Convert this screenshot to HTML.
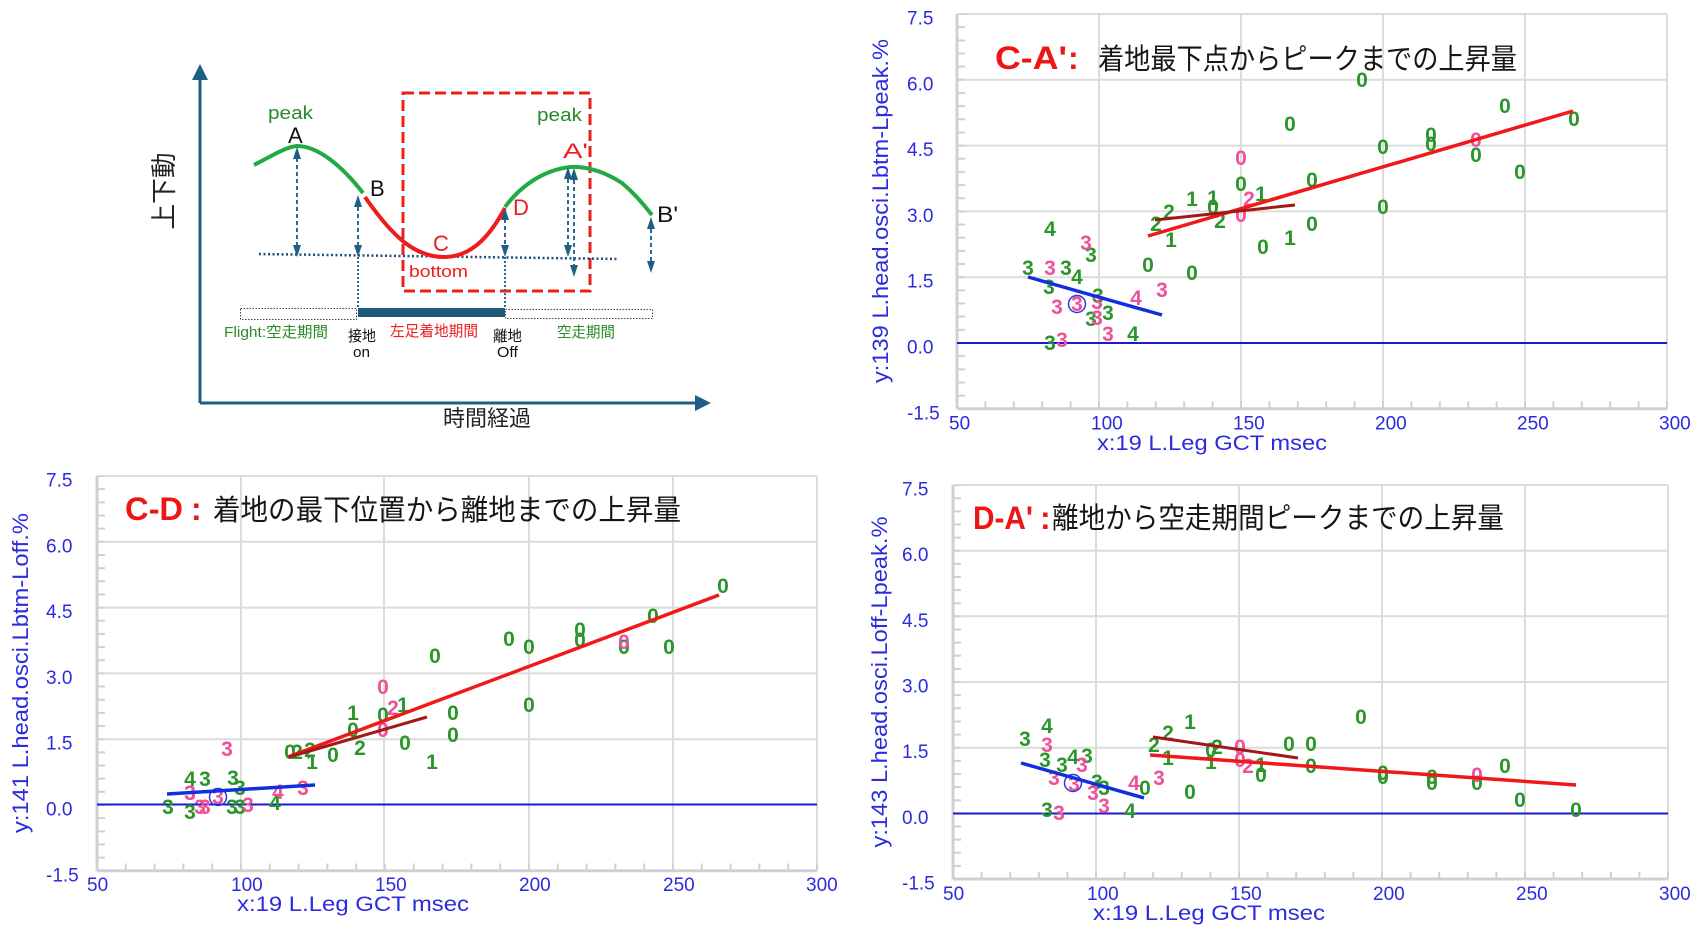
<!DOCTYPE html>
<html>
<head>
<meta charset="utf-8">
<style>
html,body{margin:0;padding:0;background:#fff;}
body{width:1700px;height:933px;overflow:hidden;}
svg{display:block;}
.lbl{font-family:"Liberation Sans","Noto Sans CJK JP",sans-serif;fill:#2b2be0;font-size:19px;}
.ttl{font-family:"Liberation Sans",sans-serif;fill:#2b2be0;font-size:21px;}
.yt{font-family:"Liberation Sans",sans-serif;fill:#2b2be0;font-size:22px;}
.g text{font-family:"Liberation Sans",sans-serif;font-weight:bold;font-size:21px;text-anchor:middle;}
.gr{fill:#2a962a;}
.pk{fill:#f0509a;}
.grid{stroke:#dcdcdc;stroke-width:2;}
.ax{stroke:#d0d0d0;stroke-width:3;}
.tk{stroke:#d0d0d0;}
.hr{font-family:"Liberation Sans",sans-serif;font-weight:bold;fill:#ee1515;font-size:32px;}
.hj{font-family:"Liberation Sans","Noto Sans CJK JP",sans-serif;fill:#161616;font-size:29px;}
.dg{font-family:"Liberation Sans","Noto Sans CJK JP",sans-serif;}
</style>
</head>
<body>
<svg width="1700" height="933" viewBox="0 0 1700 933" xmlns="http://www.w3.org/2000/svg">
<rect width="1700" height="933" fill="#fff"/>

<!-- ================= DIAGRAM (top-left) ================= -->
<g>
  <line x1="200" y1="403" x2="200" y2="78" stroke="#1f5f86" stroke-width="3"/>
  <polygon points="200,64 192,80 208,80" fill="#1f5f86"/>
  <line x1="200" y1="403" x2="697" y2="403" stroke="#1f5f86" stroke-width="3"/>
  <polygon points="711,403 695,395 695,411" fill="#1f5f86"/>
  <text class="dg" transform="translate(173,191) rotate(-90)" text-anchor="middle" font-size="26" fill="#222" textLength="77" lengthAdjust="spacingAndGlyphs">上下動</text>
  <text class="dg" x="443" y="426" font-size="22" fill="#222" textLength="88" lengthAdjust="spacingAndGlyphs">時間経過</text>

  <rect x="403" y="93" width="187" height="198" fill="none" stroke="#e82020" stroke-width="3" stroke-dasharray="11 5"/>

  <line x1="259" y1="254" x2="618" y2="259" stroke="#1f4e79" stroke-width="2.5" stroke-dasharray="2 2.5"/>

  <path d="M254,165 C270,157 285,147 297,146 C318,146 342,166 363,193" fill="none" stroke="#22aa44" stroke-width="4"/>
  <path d="M365,197 C392,236 415,258 446,257 C472,256 490,236 505,208" fill="none" stroke="#ee1c1c" stroke-width="4"/>
  <path d="M505,207 C522,184 545,170 570,167 C590,166 608,174 622,183 C635,194 644,205 652,215" fill="none" stroke="#22aa44" stroke-width="4"/>

  <g stroke="#2a6a95" stroke-width="2" stroke-dasharray="4 3" fill="none">
    <line x1="297" y1="158" x2="297" y2="246"/>
    <line x1="358" y1="207" x2="358" y2="246"/>
    <line x1="505" y1="219" x2="505" y2="246"/>
    <line x1="568" y1="179" x2="568" y2="246"/>
    <line x1="574" y1="180" x2="574" y2="266"/>
    <line x1="651" y1="229" x2="651" y2="262"/>
  </g>
  <g stroke="#2a6a95" stroke-width="2" stroke-dasharray="2 2" fill="none">
    <line x1="358" y1="257" x2="358" y2="308"/>
    <line x1="505" y1="257" x2="505" y2="308"/>
  </g>
  <g fill="#1f5f86">
    <polygon points="297,147 293,159 301,159"/><polygon points="297,257 293,245 301,245"/>
    <polygon points="358,195 354,207 362,207"/><polygon points="358,257 354,245 362,245"/>
    <polygon points="505,208 501,220 509,220"/><polygon points="505,257 501,245 509,245"/>
    <polygon points="568,167 564,179 572,179"/><polygon points="568,257 564,245 572,245"/>
    <polygon points="574,168 570,180 578,180"/><polygon points="574,277 570,265 578,265"/>
    <polygon points="651,217 647,229 655,229"/><polygon points="651,273 647,261 655,261"/>
  </g>

  <rect x="240.5" y="308.5" width="116" height="11" fill="none" stroke="#444" stroke-width="1" stroke-dasharray="1.5 1.5"/>
  <rect x="358" y="308" width="147" height="9" fill="#1f5a7a"/>
  <rect x="505.5" y="309.5" width="147" height="9" fill="none" stroke="#444" stroke-width="1" stroke-dasharray="1.5 1.5"/>

  <text class="dg" x="268" y="119" font-size="18" fill="#2a8a2a" textLength="45" lengthAdjust="spacingAndGlyphs">peak</text>
  <text class="dg" x="537" y="121" font-size="18" fill="#2a8a2a" textLength="45" lengthAdjust="spacingAndGlyphs">peak</text>
  <text class="dg" x="288" y="143" font-size="22" fill="#111">A</text>
  <text class="dg" x="563" y="158" font-size="21" fill="#ee1c1c" textLength="25" lengthAdjust="spacingAndGlyphs">A'</text>
  <text class="dg" x="370" y="196" font-size="22" fill="#111">B</text>
  <text class="dg" x="513" y="215" font-size="22" fill="#ee1c1c">D</text>
  <text class="dg" x="433" y="251" font-size="22" fill="#ee1c1c">C</text>
  <text class="dg" x="657" y="222" font-size="22" fill="#111" textLength="21" lengthAdjust="spacingAndGlyphs">B'</text>
  <text class="dg" x="409" y="277" font-size="17" fill="#ee1c1c" textLength="59" lengthAdjust="spacingAndGlyphs">bottom</text>
  <text class="dg" x="224" y="337" font-size="15" fill="#2a8a2a" textLength="104" lengthAdjust="spacingAndGlyphs">Flight:空走期間</text>
  <text class="dg" x="348" y="341" font-size="15" fill="#111" textLength="28" lengthAdjust="spacingAndGlyphs">接地</text>
  <text class="dg" x="353" y="357" font-size="15" fill="#111" textLength="17" lengthAdjust="spacingAndGlyphs">on</text>
  <text class="dg" x="390" y="336" font-size="15" fill="#ee1c1c" textLength="88" lengthAdjust="spacingAndGlyphs">左足着地期間</text>
  <text class="dg" x="493" y="341" font-size="15" fill="#111" textLength="29" lengthAdjust="spacingAndGlyphs">離地</text>
  <text class="dg" x="497" y="357" font-size="15" fill="#111" textLength="21" lengthAdjust="spacingAndGlyphs">Off</text>
  <text class="dg" x="557" y="337" font-size="15" fill="#2a8a2a" textLength="58" lengthAdjust="spacingAndGlyphs">空走期間</text>
</g>

<!-- ================= TOP-RIGHT CHART ================= -->
<g>
  <g class="grid">
    <line x1="1099" y1="14" x2="1099" y2="408.8"/><line x1="1241" y1="14" x2="1241" y2="408.8"/>
    <line x1="1383" y1="14" x2="1383" y2="408.8"/><line x1="1525" y1="14" x2="1525" y2="408.8"/>
    <line x1="1667" y1="14" x2="1667" y2="408.8"/>
    <line x1="957" y1="14" x2="1667" y2="14"/><line x1="957" y1="79.8" x2="1667" y2="79.8"/>
    <line x1="957" y1="145.6" x2="1667" y2="145.6"/><line x1="957" y1="211.4" x2="1667" y2="211.4"/>
    <line x1="957" y1="277.2" x2="1667" y2="277.2"/>
  </g>
  <line class="ax" x1="957" y1="14" x2="957" y2="408.8"/>
  <line class="ax" x1="957" y1="408.8" x2="1667" y2="408.8"/>
  <line class="tk" x1="961" y1="409.8" x2="961" y2="14" stroke-width="8" stroke-dasharray="2 11.16"/>
  <line class="tk" x1="956" y1="405" x2="1668" y2="405" stroke-width="7" stroke-dasharray="2 26.4"/>
  <line x1="957" y1="343" x2="1667" y2="343" stroke="#1a1ad0" stroke-width="2"/>

  <text class="lbl" x="907" y="24.5">7.5</text>
  <text class="lbl" x="907" y="90.3">6.0</text>
  <text class="lbl" x="907" y="156.1">4.5</text>
  <text class="lbl" x="907" y="221.9">3.0</text>
  <text class="lbl" x="907" y="287.7">1.5</text>
  <text class="lbl" x="907" y="353.5">0.0</text>
  <text class="lbl" x="907" y="419.3">-1.5</text>
  <text class="lbl" x="949" y="429.5">50</text>
  <text class="lbl" x="1091" y="429.5">100</text>
  <text class="lbl" x="1233" y="429.5">150</text>
  <text class="lbl" x="1375" y="429.5">200</text>
  <text class="lbl" x="1517" y="429.5">250</text>
  <text class="lbl" x="1659" y="429.5">300</text>
  <text class="ttl" x="1097" y="450" textLength="230" lengthAdjust="spacingAndGlyphs">x:19 L.Leg GCT msec</text>
  <text class="yt" transform="translate(888,211) rotate(-90)" text-anchor="middle" textLength="344" lengthAdjust="spacingAndGlyphs">y:139 L.head.osci.Lbtm-Lpeak.%</text>

  <text class="hr" x="995" y="69" textLength="72" lengthAdjust="spacingAndGlyphs">C-A'</text>
  <text class="hr" x="1068" y="69">:</text>
  <text class="hj" x="1098" y="69" textLength="419" lengthAdjust="spacingAndGlyphs">着地最下点からピークまでの上昇量</text>

  <g class="g">
    <text class="gr" x="1362" y="87">0</text><text class="gr" x="1505" y="113">0</text>
    <text class="gr" x="1290" y="131">0</text><text class="gr" x="1574" y="126">0</text>
    <text class="gr" x="1383" y="154">0</text><text class="gr" x="1431" y="142">0</text>
    <text class="gr" x="1431" y="151">0</text><text class="gr" x="1476" y="162">0</text>
    <text class="gr" x="1520" y="179">0</text><text class="gr" x="1312" y="187">0</text>
    <text class="gr" x="1241" y="191">0</text><text class="gr" x="1383" y="214">0</text>
    <text class="gr" x="1213" y="214">0</text><text class="gr" x="1312" y="231">0</text>
    <text class="gr" x="1263" y="254">0</text><text class="gr" x="1148" y="272">0</text>
    <text class="gr" x="1192" y="280">0</text>
    <text class="gr" x="1192" y="206">1</text><text class="gr" x="1213" y="205">1</text>
    <text class="gr" x="1261" y="201">1</text><text class="gr" x="1171" y="247">1</text>
    <text class="gr" x="1290" y="245">1</text>
    <text class="gr" x="1169" y="219">2</text><text class="gr" x="1156" y="231">2</text>
    <text class="gr" x="1220" y="228">2</text>
    <text class="gr" x="1050" y="236">4</text><text class="gr" x="1077" y="284">4</text>
    <text class="gr" x="1133" y="341">4</text>
    <text class="gr" x="1028" y="275">3</text><text class="gr" x="1066" y="275">3</text>
    <text class="gr" x="1091" y="262">3</text><text class="gr" x="1049" y="294">3</text>
    <text class="gr" x="1098" y="303">3</text><text class="gr" x="1091" y="326">3</text>
    <text class="gr" x="1108" y="320">3</text><text class="gr" x="1050" y="350">3</text>
    <text class="pk" x="1241" y="165">0</text><text class="pk" x="1476" y="147">0</text>
    <text class="pk" x="1241" y="222">0</text><text class="pk" x="1249" y="206">2</text>
    <text class="pk" x="1136" y="305">4</text>
    <text class="pk" x="1086" y="250">3</text><text class="pk" x="1050" y="275">3</text>
    <text class="pk" x="1057" y="314">3</text><text class="pk" x="1077" y="311">3</text>
    <text class="pk" x="1162" y="297">3</text><text class="pk" x="1108" y="341">3</text>
    <text class="pk" x="1062" y="347">3</text><text class="pk" x="1097" y="325">3</text>
    <text class="pk" x="1097" y="309">3</text>
  </g>
  <circle cx="1077" cy="304" r="8.5" fill="none" stroke="#3535e0" stroke-width="1.5"/>
  <line x1="1148" y1="236" x2="1573" y2="111" stroke="#f01818" stroke-width="3.5"/>
  <line x1="1155" y1="220" x2="1295" y2="205" stroke="#a01818" stroke-width="3"/>
  <line x1="1028" y1="277" x2="1162" y2="315" stroke="#1030e0" stroke-width="3.5"/>
</g>

<!-- ================= BOTTOM-LEFT CHART ================= -->
<g>
  <g class="grid">
    <line x1="241" y1="476" x2="241" y2="870.8"/><line x1="384" y1="476" x2="384" y2="870.8"/>
    <line x1="529" y1="476" x2="529" y2="870.8"/><line x1="673" y1="476" x2="673" y2="870.8"/>
    <line x1="817" y1="476" x2="817" y2="870.8"/>
    <line x1="97" y1="476" x2="817" y2="476"/><line x1="97" y1="541.8" x2="817" y2="541.8"/>
    <line x1="97" y1="607.6" x2="817" y2="607.6"/><line x1="97" y1="673.4" x2="817" y2="673.4"/>
    <line x1="97" y1="739.2" x2="817" y2="739.2"/>
  </g>
  <line class="ax" x1="97" y1="476" x2="97" y2="870.8"/>
  <line class="ax" x1="97" y1="870.8" x2="817" y2="870.8"/>
  <line class="tk" x1="101" y1="871.8" x2="101" y2="476" stroke-width="8" stroke-dasharray="2 11.16"/>
  <line class="tk" x1="96" y1="867" x2="818" y2="867" stroke-width="7" stroke-dasharray="2 26.8"/>
  <line x1="97" y1="804.5" x2="817" y2="804.5" stroke="#1a1ad0" stroke-width="2"/>

  <text class="lbl" x="46" y="486.5">7.5</text>
  <text class="lbl" x="46" y="552.3">6.0</text>
  <text class="lbl" x="46" y="618.1">4.5</text>
  <text class="lbl" x="46" y="683.9">3.0</text>
  <text class="lbl" x="46" y="749.7">1.5</text>
  <text class="lbl" x="46" y="815.5">0.0</text>
  <text class="lbl" x="46" y="881.3">-1.5</text>
  <text class="lbl" x="87" y="891">50</text>
  <text class="lbl" x="231" y="891">100</text>
  <text class="lbl" x="375" y="891">150</text>
  <text class="lbl" x="519" y="891">200</text>
  <text class="lbl" x="663" y="891">250</text>
  <text class="lbl" x="806" y="891">300</text>
  <text class="ttl" x="237" y="911" textLength="232" lengthAdjust="spacingAndGlyphs">x:19 L.Leg GCT msec</text>
  <text class="yt" transform="translate(28,673) rotate(-90)" text-anchor="middle" textLength="320" lengthAdjust="spacingAndGlyphs">y:141 L.head.osci.Lbtm-Loff.%</text>

  <text class="hr" x="125" y="520" textLength="58" lengthAdjust="spacingAndGlyphs">C-D</text>
  <text class="hr" x="191" y="520">:</text>
  <text class="hj" x="213" y="520" textLength="468" lengthAdjust="spacingAndGlyphs">着地の最下位置から離地までの上昇量</text>

  <g class="g">
    <text class="gr" x="723" y="593">0</text><text class="gr" x="653" y="623">0</text>
    <text class="gr" x="509" y="646">0</text><text class="gr" x="529" y="654">0</text>
    <text class="gr" x="580" y="637">0</text><text class="gr" x="580" y="647">0</text>
    <text class="gr" x="624" y="654">0</text><text class="gr" x="669" y="654">0</text>
    <text class="gr" x="435" y="663">0</text><text class="gr" x="529" y="712">0</text>
    <text class="gr" x="453" y="720">0</text><text class="gr" x="453" y="742">0</text>
    <text class="gr" x="405" y="750">0</text><text class="gr" x="383" y="722">0</text>
    <text class="gr" x="333" y="762">0</text><text class="gr" x="290" y="759">0</text>
    <text class="gr" x="353" y="720">1</text><text class="gr" x="403" y="712">1</text>
    <text class="gr" x="432" y="769">1</text><text class="gr" x="312" y="769">1</text>
    <text class="gr" x="353" y="737">0</text>
    <text class="gr" x="297" y="759">2</text><text class="gr" x="360" y="755">2</text>
    <text class="gr" x="310" y="757">2</text>
    <text class="gr" x="190" y="786">4</text><text class="gr" x="275" y="810">4</text>
    <text class="gr" x="205" y="786">3</text><text class="gr" x="233" y="785">3</text>
    <text class="gr" x="168" y="814">3</text><text class="gr" x="190" y="819">3</text>
    <text class="gr" x="232" y="814">3</text><text class="gr" x="240" y="814">3</text>
    <text class="gr" x="240" y="795">3</text><text class="gr" x="190" y="800">3</text>
    <text class="pk" x="383" y="694">0</text><text class="pk" x="624" y="649">0</text>
    <text class="pk" x="383" y="737">0</text><text class="pk" x="393" y="715">2</text>
    <text class="pk" x="278" y="799">4</text>
    <text class="pk" x="227" y="756">3</text><text class="pk" x="303" y="795">3</text>
    <text class="pk" x="200" y="814">3</text><text class="pk" x="205" y="814">3</text>
    <text class="pk" x="218" y="804">3</text>
    <text class="pk" x="248" y="812">3</text><text class="pk" x="190" y="800">3</text>
  </g>
  <circle cx="218" cy="797" r="8.5" fill="none" stroke="#3535e0" stroke-width="1.5"/>
  <line x1="288" y1="757" x2="719" y2="595" stroke="#f01818" stroke-width="3.5"/>
  <line x1="289" y1="757" x2="427" y2="717" stroke="#a01818" stroke-width="3"/>
  <line x1="167" y1="794" x2="315" y2="785" stroke="#1030e0" stroke-width="3.5"/>
</g>

<!-- ================= BOTTOM-RIGHT CHART ================= -->
<g>
  <g class="grid">
    <line x1="1096" y1="485" x2="1096" y2="879"/><line x1="1239" y1="485" x2="1239" y2="879"/>
    <line x1="1382" y1="485" x2="1382" y2="879"/><line x1="1525" y1="485" x2="1525" y2="879"/>
    <line x1="1668" y1="485" x2="1668" y2="879"/>
    <line x1="953" y1="485" x2="1668" y2="485"/><line x1="953" y1="550.7" x2="1668" y2="550.7"/>
    <line x1="953" y1="616.3" x2="1668" y2="616.3"/><line x1="953" y1="682" x2="1668" y2="682"/>
    <line x1="953" y1="747.7" x2="1668" y2="747.7"/>
  </g>
  <line class="ax" x1="953" y1="485" x2="953" y2="879"/>
  <line class="ax" x1="953" y1="879" x2="1668" y2="879"/>
  <line class="tk" x1="957" y1="880" x2="957" y2="485" stroke-width="8" stroke-dasharray="2 11.13"/>
  <line class="tk" x1="952" y1="875.5" x2="1669" y2="875.5" stroke-width="7" stroke-dasharray="2 26.6"/>
  <line x1="953" y1="813.5" x2="1668" y2="813.5" stroke="#1a1ad0" stroke-width="2"/>

  <text class="lbl" x="902" y="495.5">7.5</text>
  <text class="lbl" x="902" y="561.2">6.0</text>
  <text class="lbl" x="902" y="626.8">4.5</text>
  <text class="lbl" x="902" y="692.5">3.0</text>
  <text class="lbl" x="902" y="758.2">1.5</text>
  <text class="lbl" x="902" y="823.8">0.0</text>
  <text class="lbl" x="902" y="889.5">-1.5</text>
  <text class="lbl" x="943" y="900">50</text>
  <text class="lbl" x="1087" y="900">100</text>
  <text class="lbl" x="1230" y="900">150</text>
  <text class="lbl" x="1373" y="900">200</text>
  <text class="lbl" x="1516" y="900">250</text>
  <text class="lbl" x="1659" y="900">300</text>
  <text class="ttl" x="1093" y="920" textLength="232" lengthAdjust="spacingAndGlyphs">x:19 L.Leg GCT msec</text>
  <text class="yt" transform="translate(887,682) rotate(-90)" text-anchor="middle" textLength="331" lengthAdjust="spacingAndGlyphs">y:143 L.head.osci.Loff-Lpeak.%</text>

  <text class="hr" x="973" y="529" textLength="60" lengthAdjust="spacingAndGlyphs">D-A'</text>
  <text class="hr" x="1040" y="529">:</text>
  <text class="hj" x="1052" y="528" textLength="452" lengthAdjust="spacingAndGlyphs">離地から空走期間ピークまでの上昇量</text>

  <g class="g">
    <text class="gr" x="1361" y="724">0</text><text class="gr" x="1311" y="751">0</text>
    <text class="gr" x="1289" y="751">0</text><text class="gr" x="1311" y="773">0</text>
    <text class="gr" x="1383" y="780">0</text><text class="gr" x="1383" y="784">0</text>
    <text class="gr" x="1432" y="784">0</text><text class="gr" x="1432" y="790">0</text>
    <text class="gr" x="1505" y="773">0</text><text class="gr" x="1477" y="790">0</text>
    <text class="gr" x="1520" y="807">0</text><text class="gr" x="1576" y="817">0</text>
    <text class="gr" x="1190" y="799">0</text><text class="gr" x="1145" y="795">0</text>
    <text class="gr" x="1261" y="782">0</text><text class="gr" x="1211" y="757">0</text>
    <text class="gr" x="1190" y="729">1</text><text class="gr" x="1168" y="765">1</text>
    <text class="gr" x="1211" y="769">1</text><text class="gr" x="1261" y="772">1</text>
    <text class="gr" x="1168" y="740">2</text><text class="gr" x="1154" y="752">2</text>
    <text class="gr" x="1217" y="754">2</text>
    <text class="gr" x="1047" y="733">4</text><text class="gr" x="1073" y="764">4</text>
    <text class="gr" x="1130" y="818">4</text>
    <text class="gr" x="1025" y="746">3</text><text class="gr" x="1045" y="767">3</text>
    <text class="gr" x="1062" y="772">3</text><text class="gr" x="1087" y="763">3</text>
    <text class="gr" x="1097" y="789">3</text><text class="gr" x="1104" y="795">3</text>
    <text class="gr" x="1047" y="817">3</text>
    <text class="pk" x="1240" y="754">0</text><text class="pk" x="1240" y="767">0</text>
    <text class="pk" x="1477" y="782">0</text><text class="pk" x="1248" y="773">2</text>
    <text class="pk" x="1134" y="790">4</text>
    <text class="pk" x="1047" y="752">3</text><text class="pk" x="1054" y="785">3</text>
    <text class="pk" x="1082" y="772">3</text><text class="pk" x="1074" y="791">3</text>
    <text class="pk" x="1159" y="785">3</text><text class="pk" x="1093" y="800">3</text>
    <text class="pk" x="1104" y="813">3</text><text class="pk" x="1059" y="820">3</text>
  </g>
  <circle cx="1073" cy="783" r="8.5" fill="none" stroke="#3535e0" stroke-width="1.5"/>
  <line x1="1150" y1="755" x2="1576" y2="785" stroke="#f01818" stroke-width="3.5"/>
  <line x1="1153" y1="737" x2="1298" y2="758" stroke="#a01818" stroke-width="3"/>
  <line x1="1021" y1="763" x2="1144" y2="798" stroke="#1030e0" stroke-width="3.5"/>
</g>
</svg>
</body>
</html>
